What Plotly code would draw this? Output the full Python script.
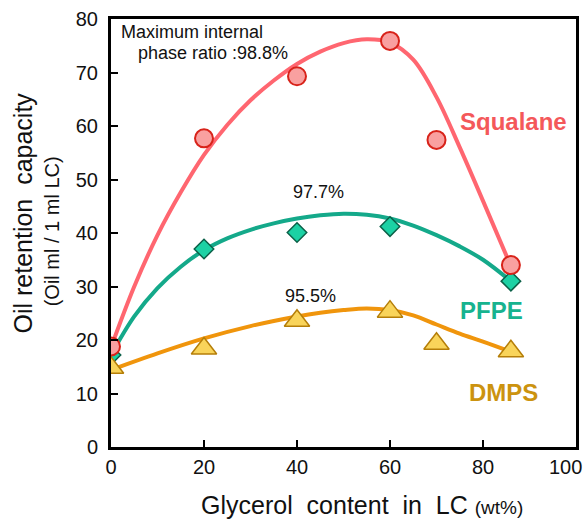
import plotly.graph_objects as go

# ---- data ----
sq_x = [0, 20, 40, 60, 70, 86]
sq_y = [18.8, 57.7, 69.3, 75.9, 57.4, 34.0]
pf_x = [0, 20, 40, 60, 86]
pf_y = [17.2, 37.0, 40.1, 41.2, 31.0]
dm_x = [0, 20, 40, 60, 70, 86]
dm_y = [14.8, 18.4, 23.6, 25.3, 19.3, 17.9]

# fitted trend curves
sq_cx = [0, 5, 10, 15, 20, 25, 30, 35, 40, 45, 50, 55, 60, 65, 70, 75, 80, 86]
sq_cy = [18.6, 30.0, 39.6, 47.6, 54.6, 60.2, 64.8, 68.5, 71.6, 73.9, 75.5, 76.2, 75.6, 72.4, 65.4, 56.0, 46.0, 33.8]
pf_cx = [0, 5, 10, 15, 20, 25, 30, 35, 40, 45, 50, 55, 60, 65, 70, 75, 80, 86]
pf_cy = [17.2, 24.4, 29.7, 33.7, 36.8, 39.0, 40.6, 41.8, 42.7, 43.3, 43.6, 43.4, 42.7, 41.4, 39.6, 37.5, 35.0, 31.0]
dm_cx = [0, 10, 20, 30, 40, 45, 50, 55, 60, 65, 70, 75, 80, 86]
dm_cy = [14.4, 17.5, 20.3, 22.6, 24.4, 25.1, 25.6, 25.9, 25.6, 24.6, 22.9, 21.2, 19.7, 17.8]

x_ticks = [0, 20, 40, 60, 80, 100]
x_labels = ["0", "20", "40", "60", "80", ""]   # "100" drawn separately so it fits the page
y_ticks = [0, 10, 20, 30, 40, 50, 60, 70, 80]

FONT = "Liberation Sans, Arial, sans-serif"

fig = go.Figure()

# curves
fig.add_trace(go.Scatter(x=dm_cx, y=dm_cy, mode="lines",
                         line=dict(color="#F0950C", width=4, shape="spline", smoothing=1.0),
                         hoverinfo="skip", showlegend=False))
fig.add_trace(go.Scatter(x=pf_cx, y=pf_cy, mode="lines",
                         line=dict(color="#14A98A", width=4, shape="spline", smoothing=1.0),
                         hoverinfo="skip", showlegend=False))
fig.add_trace(go.Scatter(x=sq_cx, y=sq_cy, mode="lines",
                         line=dict(color="#FF6670", width=4, shape="spline", smoothing=1.0),
                         hoverinfo="skip", showlegend=False))

# markers
fig.add_trace(go.Scatter(x=pf_x, y=pf_y, mode="markers", name="PFPE",
                         marker=dict(symbol="diamond", size=15, color="#1CD1A4",
                                     line=dict(color="#0B6048", width=1.5)),
                         showlegend=False))
fig.add_trace(go.Scatter(x=dm_x, y=dm_y, mode="markers", name="DMPS",
                         marker=dict(symbol="triangle-up", size=22, color="#F9D45A",
                                     line=dict(color="#B57E08", width=1.5)),
                         showlegend=False))
fig.add_trace(go.Scatter(x=sq_x, y=sq_y, mode="markers", name="Squalane",
                         marker=dict(symbol="circle", size=18, color="#F9A0A0",
                                     line=dict(color="#D8231A", width=2)),
                         showlegend=False))

ann = []
def txt(x, y, s, size, color="#111111", bold=False, xref="x", yref="y", angle=0, xanchor="center"):
    t = f"<b>{s}</b>" if bold else s
    ann.append(dict(x=x, y=y, xref=xref, yref=yref, text=t, showarrow=False,
                    textangle=angle, xanchor=xanchor, yanchor="middle",
                    font=dict(family=FONT, size=size, color=color)))

txt(17.4, 77.6, "Maximum internal", 18)
txt(21.9, 73.6, "phase ratio :98.8%", 18)
txt(44.7, 47.6, "97.7%", 18)
txt(42.8, 28.3, "95.5%", 18)
txt(86.5, 60.8, "Squalane", 24, color="#F4585A", bold=True)
txt(81.9, 25.6, "PFPE", 24, color="#17B38F", bold=True)
txt(84.3, 10.1, "DMPS", 24, color="#CC930F", bold=True)

# last x tick label, kept inside the page
txt(1.018, -0.047, "100", 20, xref="paper", yref="paper", xanchor="right")

# axis titles
txt(-0.19, 0.547, "Oil retention  capacity", 25, xref="paper", yref="paper", angle=-90)
txt(-0.128, 0.505, "(Oil ml / 1 ml LC)", 20, xref="paper", yref="paper", angle=-90)
ann.append(dict(x=0.54, y=-0.135, xref="paper", yref="paper", showarrow=False,
                xanchor="center", yanchor="middle",
                text="Glycerol  content  in  LC <span style='font-size:19px'>(wt%)</span>",
                font=dict(family=FONT, size=25, color="#111111")))

fig.update_layout(
    width=585, height=524,
    margin=dict(l=111, r=9, t=19, b=77, autoexpand=False),
    paper_bgcolor="white", plot_bgcolor="white",
    annotations=ann,
    font=dict(family=FONT, color="#111111"),
)
fig.update_xaxes(range=[0, 100], tickvals=x_ticks, ticktext=x_labels,
                 ticks="inside", ticklen=7, tickwidth=2,
                 tickcolor="black", showgrid=False, zeroline=False,
                 showline=True, linecolor="black", linewidth=3, mirror=True,
                 automargin=False,
                 tickfont=dict(family=FONT, size=20, color="#111111"))
fig.update_yaxes(range=[0, 80], tickvals=y_ticks, ticks="inside", ticklen=7, tickwidth=2,
                 tickcolor="black", showgrid=False, zeroline=False,
                 showline=True, linecolor="black", linewidth=3, mirror=True,
                 ticklabelstandoff=6, automargin=False,
                 tickfont=dict(family=FONT, size=20, color="#111111"))

fig.write_html("out.html")
